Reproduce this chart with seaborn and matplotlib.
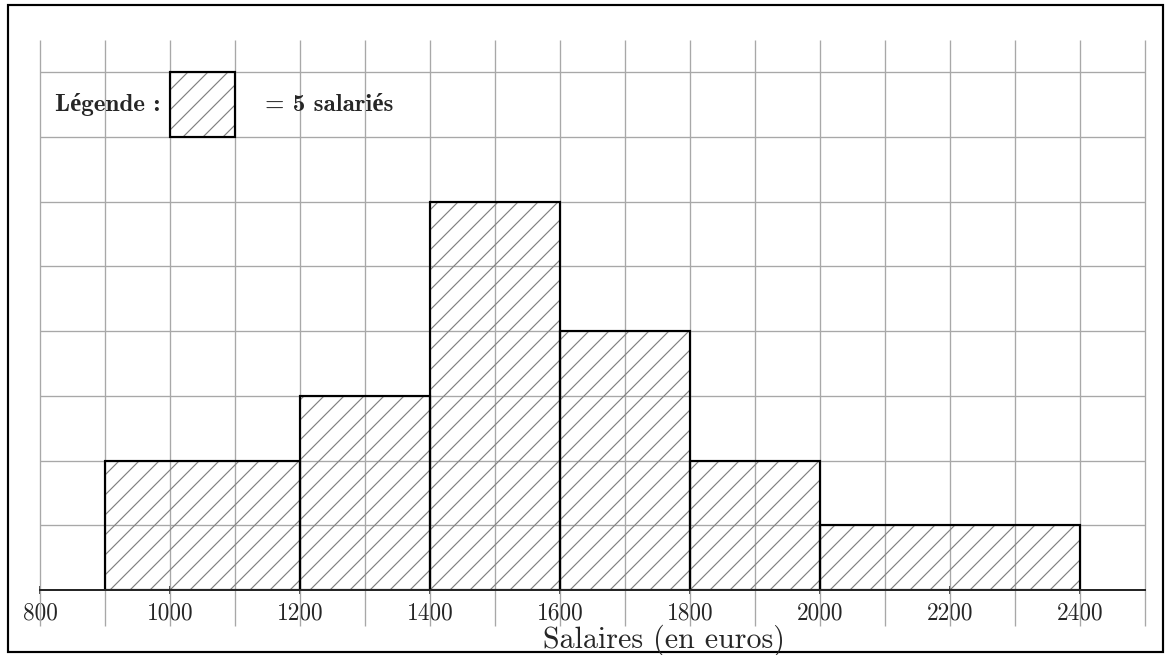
import numpy as np
import matplotlib.pyplot as plt
import matplotlib.patches as mpatches
import seaborn as sns

# Salary classes (euros) and number of employees in each class
bin_edges = [900, 1200, 1400, 1600, 1800, 2000, 2400]
employees = [30, 30, 60, 40, 20, 20]
per_square = 5          # one grid square = 5 salariés
square_width = 100      # width of one grid square in euros

x_ticks = [800, 1000, 1200, 1400, 1600, 1800, 2000, 2200, 2400]
x_grid = list(range(800, 2501, 100))
y_grid = list(range(1, 9))

# bar heights in grid squares (area = count)
widths = np.diff(bin_edges)
mids = [(a + b) / 2 for a, b in zip(bin_edges[:-1], bin_edges[1:])]
heights = [n / per_square / (w / square_width) for n, w in zip(employees, widths)]

sns.set_style("white")
plt.rcParams["font.family"] = ["cmr10", "DejaVu Serif"]
plt.rcParams["axes.formatter.use_mathtext"] = True
plt.rcParams["hatch.linewidth"] = 0.7

fig = plt.figure(figsize=(1166 / 120, 655 / 120), dpi=120)
ax = fig.add_axes([40 / 1166, 65 / 655, 1105 / 1166, 550 / 655])

grid_col = "#a8a8a8"
ax.vlines(x_grid, -0.55, 8.5, color=grid_col, lw=0.8, zorder=1, clip_on=False)
ax.hlines(y_grid, 800, 2500, color=grid_col, lw=0.8, zorder=1)

# hatched fill
sns.histplot(x=mids, weights=heights, bins=bin_edges, stat="count",
             element="bars", ax=ax)
n_fill = len(ax.patches)
for p in ax.patches:
    p.set_facecolor("none")
    p.set_edgecolor("#808080")
    p.set_linewidth(0)
    p.set_hatch("//")
    p.set_alpha(1)
    p.set_zorder(2)
# black outlines
sns.histplot(x=mids, weights=heights, bins=bin_edges, stat="count",
             element="bars", ax=ax)
for p in ax.patches[n_fill:]:
    p.set_facecolor("none")
    p.set_edgecolor("black")
    p.set_linewidth(1.3)
    p.set_alpha(1)
    p.set_zorder(3)

ax.set_xlim(800, 2500)
ax.set_ylim(0, 8.5)
for s in ["top", "right", "left"]:
    ax.spines[s].set_visible(False)
ax.spines["bottom"].set_linewidth(1.2)
ax.spines["bottom"].set_zorder(4)
ax.set_yticks([])
ax.set_ylabel("")
ax.set_xticks(x_ticks)
ax.set_xticklabels([str(t) for t in x_ticks])
ax.tick_params(axis="x", direction="inout", length=5, width=1, pad=5,
               labelsize=14, bottom=True)
ax.set_xlabel("")
fig.text(664 / 1166, 1 - 640 / 655, "Salaires (en euros)", fontsize=18,
         ha="center", va="center")

# legend key: one grid square
key_x, key_y = 1000, 7
ax.add_patch(mpatches.Rectangle((key_x, key_y), square_width, 1, facecolor="none",
                                edgecolor="#808080", hatch="//", lw=0, zorder=2))
ax.add_patch(mpatches.Rectangle((key_x, key_y), square_width, 1, facecolor="none",
                                edgecolor="black", lw=1.3, zorder=3))
bold_fam = ["cmb10", "Liberation Serif"]
ax.text(key_x - 15, key_y + 0.5, "Légende :", ha="right", va="center",
        fontsize=15, family=bold_fam, fontweight="bold")
ax.text(key_x + 146, key_y + 0.5, "= 5 salariés", ha="left", va="center",
        fontsize=15, family=bold_fam, fontweight="bold")

fig.patches.append(mpatches.Rectangle((8 / 1166, 3 / 655), 1155 / 1166, 647 / 655,
                                      transform=fig.transFigure, fill=False,
                                      edgecolor="black", lw=1.3))

fig.savefig("out.png", dpi=120)
